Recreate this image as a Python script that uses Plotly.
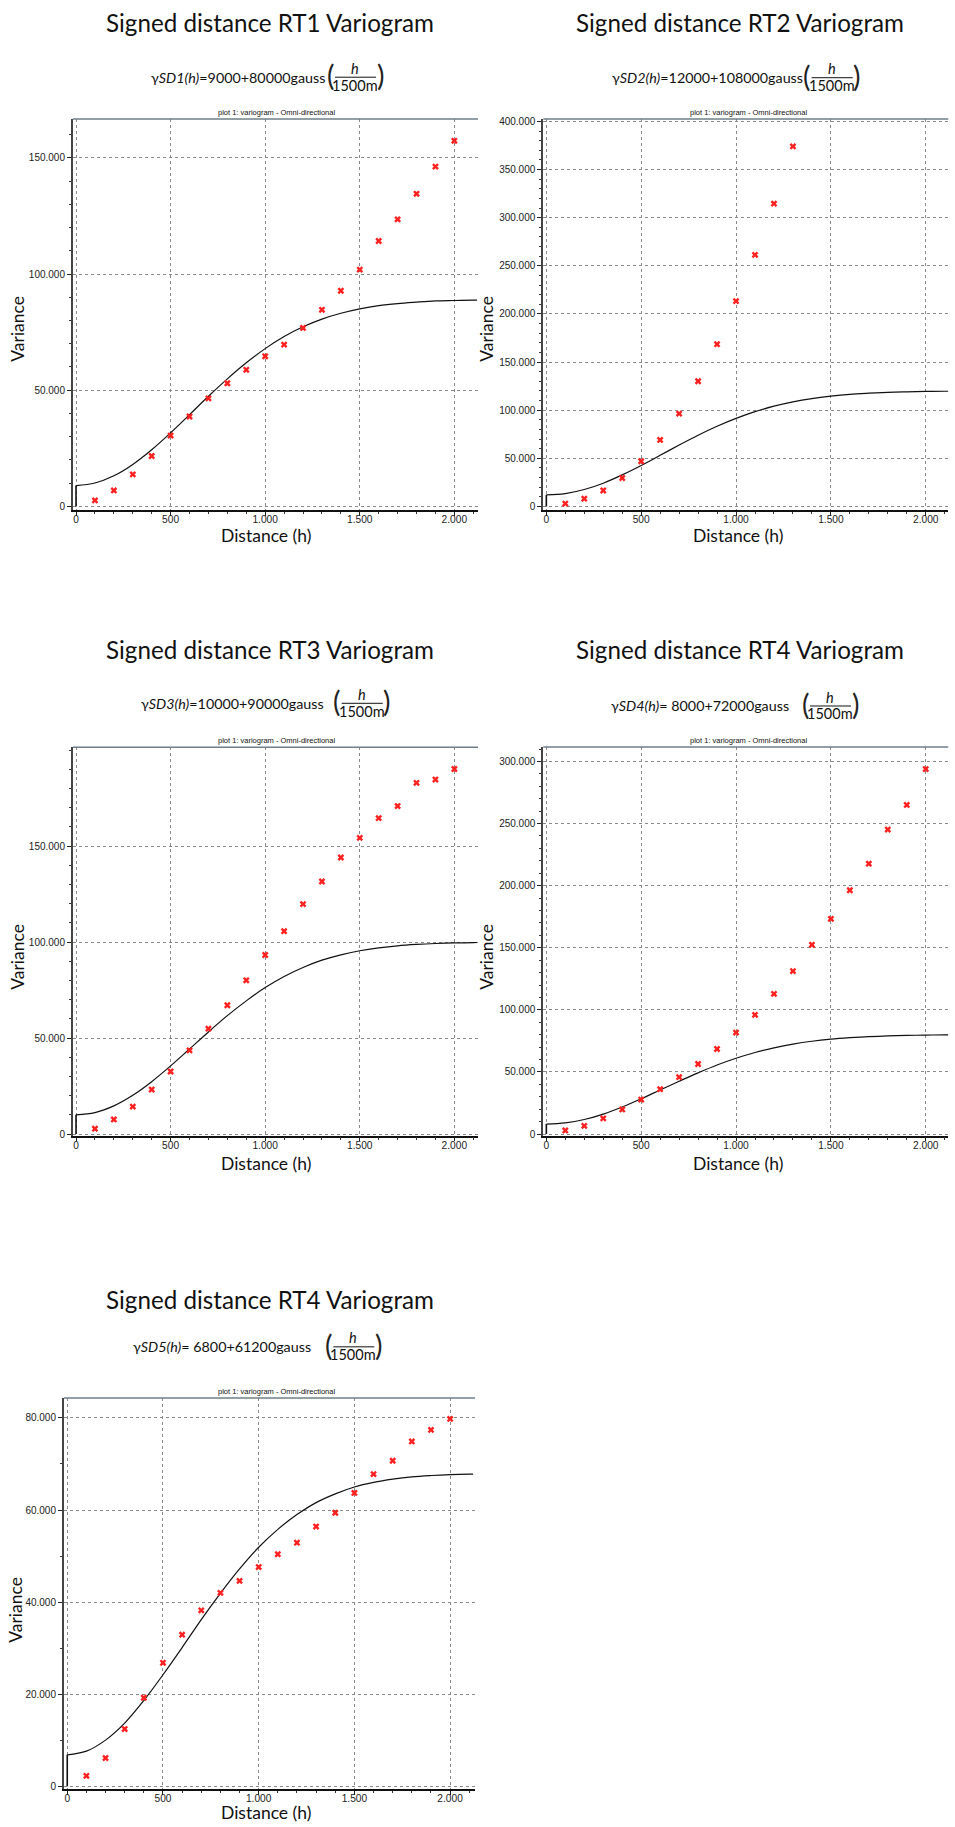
import plotly.graph_objects as go

# ------------------------------------------------------------------ data
lag_h = [100, 200, 300, 400, 500, 600, 700, 800, 900, 1000,
         1100, 1200, 1300, 1400, 1500, 1600, 1700, 1800, 1900, 2000]
rt2_lag_h = [100, 200, 300, 400, 500, 600, 700, 800, 900, 1000, 1100, 1200, 1300]

rt1_variance = [2600, 6900, 13800, 21700, 30500, 38700, 46500, 53000, 58800, 64600,
                69600, 76800, 84600, 92800, 101900, 114200, 123500, 134500, 146200, 157300]
rt2_variance = [3000, 8100, 16600, 29600, 47000, 69100, 96500, 130100, 168600, 213300,
                261400, 314600, 374100]
rt3_variance = [2800, 7600, 14300, 23200, 32600, 43600, 54900, 67100, 80100, 93300,
                105700, 119800, 131600, 144100, 154300, 164600, 170900, 183000, 184700, 190200]
rt4_variance = [2900, 6600, 12600, 19800, 27800, 36100, 45800, 56400, 68500, 81700,
                96000, 112900, 131200, 152400, 173300, 196300, 217700, 245200, 265000, 293900]
sd5_variance = [2240, 6100, 12400, 19200, 26800, 32900, 38200, 42000, 44600, 47600,
                50400, 52900, 56400, 59400, 63700, 67800, 70700, 74900, 77400, 79800]

# fitted model curves
model_h = [0, 100, 200, 300, 400, 500, 600, 700, 800, 900, 1000, 1100,
           1200, 1300, 1400, 1500, 1600, 1700, 1800, 1900, 2000, 2100, 2120]
rt1_model = [9000, 10100, 13200, 18100, 24400, 31700, 39500, 47400, 54900, 61800, 67900, 73100,
             77300, 80600, 83100, 85000, 86400, 87300, 87900, 88400, 88600, 88800, 88800]
rt2_model = [12000, 13400, 17600, 24200, 32800, 42600, 53200, 63800, 74000, 83300, 91500, 98500,
             104200, 108700, 112100, 114600, 116500, 117700, 118600, 119100, 119500, 119700, 119700]
rt3_model = [10000, 11200, 14700, 20200, 27300, 35500, 44300, 53200, 61700, 69400, 76300, 82100,
             86800, 90600, 93400, 95500, 97000, 98100, 98800, 99300, 99600, 99700, 99800]
rt4_model = [8000, 9000, 11700, 16100, 21800, 28400, 35500, 42500, 49300, 55600, 61000, 65700,
             69400, 72400, 74700, 76400, 77600, 78500, 79000, 79400, 79700, 79800, 79800]
sd5_model = [6800, 7600, 10000, 13700, 18600, 24200, 30100, 36200, 41900, 47200, 51900, 55800,
             59000, 61600, 63500, 65000, 66000, 66700, 67200, 67500, 67700, 67800, 67800]

panel_titles = ["Signed distance RT1 Variogram", "Signed distance RT2 Variogram",
                "Signed distance RT3 Variogram", "Signed distance RT4 Variogram",
                "Signed distance RT4 Variogram"]
formula_texts = ["γ<i>SD1(h)</i>=9000+80000gauss",
                 "γ<i>SD2(h)</i>=12000+108000gauss",
                 "γ<i>SD3(h)</i>=10000+90000gauss",
                 "γ<i>SD4(h)</i>= 8000+72000gauss",
                 "γ<i>SD5(h)</i>= 6800+61200gauss"]
fraction_num = "<i>h</i>"
fraction_den = "1500m"
plot_subtitle = "plot 1: variogram - Omni-directional"
x_title = "Distance (h)"
y_title = "Variance"

x_tick_vals = [0, 500, 1000, 1500, 2000]
x_tick_text = ["0", "500", "1.000", "1.500", "2.000"]
y_tick_vals_150k = [0, 50000, 100000, 150000]
y_tick_text_150k = ["0", "50.000", "100.000", "150.000"]
y_tick_vals_400k = [0, 50000, 100000, 150000, 200000, 250000, 300000, 350000, 400000]
y_tick_text_400k = ["0", "50.000", "100.000", "150.000", "200.000", "250.000",
                    "300.000", "350.000", "400.000"]
y_tick_vals_300k = [0, 50000, 100000, 150000, 200000, 250000, 300000]
y_tick_text_300k = ["0", "50.000", "100.000", "150.000", "200.000", "250.000", "300.000"]
y_tick_vals_80k = [0, 20000, 40000, 60000, 80000]
y_tick_text_80k = ["0", "20.000", "40.000", "60.000", "80.000"]

# ------------------------------------------------------------------ layout geometry (pixels)
W, H = 955, 1827
panels = [
    dict(lags=lag_h, var=rt1_variance, model=rt1_model, yt=(y_tick_vals_150k, y_tick_text_150k),
         ydt=10000, box=(73, 478, 116.4, 509), xr=[-16, 2125], yr=[-1540, 166700],
         title_xy=(270, 20), sub_xy=(276, 110), f_left=149, f_y=74.5, paren_l=330,
         xt_xy=(266, 535), yt_xy=(18, 327)),
    dict(lags=rt2_lag_h, var=rt2_variance, model=rt2_model, yt=(y_tick_vals_400k, y_tick_text_400k),
         ydt=10000, box=(543.3, 948.3, 116.4, 509), xr=[-16, 2119], yr=[-3700, 402600],
         title_xy=(740, 20), sub_xy=(748, 110), f_left=610, f_y=75, paren_l=806.7,
         xt_xy=(738, 535), yt_xy=(487, 327)),
    dict(lags=lag_h, var=rt3_variance, model=rt3_model, yt=(y_tick_vals_150k, y_tick_text_150k),
         ydt=10000, box=(73, 478, 747, 1137), xr=[-16, 2125], yr=[-830, 201600],
         title_xy=(270, 649), sub_xy=(276, 740.7), f_left=139, f_y=703, paren_l=336.7,
         xt_xy=(266, 1165), yt_xy=(18, 957.5)),
    dict(lags=lag_h, var=rt4_variance, model=rt4_model, yt=(y_tick_vals_300k, y_tick_text_300k),
         ydt=10000, box=(543.3, 948.3, 746.8, 1137), xr=[-16, 2119], yr=[-1280, 311700],
         title_xy=(740, 649), sub_xy=(748, 740.7), f_left=609, f_y=705.7, paren_l=805,
         xt_xy=(738, 1165), yt_xy=(487, 957.5)),
    dict(lags=lag_h, var=sd5_variance, model=sd5_model, yt=(y_tick_vals_80k, y_tick_text_80k),
         ydt=10000, box=(64, 475, 1400.4, 1793), xr=[-17, 2130], yr=[-650, 84330],
         title_xy=(270, 1301), sub_xy=(276, 1393.6), f_left=130.7, f_y=1349, paren_l=328.3,
         xt_xy=(266, 1816), yt_xy=(16, 1613)),
]


def px(x):
    return x / W


def py(y):
    return 1 - y / H


TITLE_FONT = "Lato, 'Open Sans', sans-serif"
TICK_FONT = "'Liberation Sans', Arial, sans-serif"

fig = go.Figure()
annotations = []
shapes = []
layout_axes = {}

for i, p in enumerate(panels):
    n = i + 1
    xa = "x" if n == 1 else f"x{n}"
    ya = "y" if n == 1 else f"y{n}"
    xkey = "xaxis" if n == 1 else f"xaxis{n}"
    ykey = "yaxis" if n == 1 else f"yaxis{n}"
    left, right, top, bottom = p["box"]

    # model curve
    fig.add_trace(go.Scatter(x=model_h, y=p["model"], mode="lines",
                             line=dict(color="#111111", width=1.2, shape="spline", smoothing=1.0),
                             xaxis=xa, yaxis=ya, showlegend=False, hoverinfo="skip"))
    # nugget jump at h = 0
    fig.add_trace(go.Scatter(x=[model_h[0], model_h[0]], y=[0, p["model"][0]], mode="lines",
                             line=dict(color="#111111", width=1.6),
                             xaxis=xa, yaxis=ya, showlegend=False, hoverinfo="skip"))
    # experimental points
    fig.add_trace(go.Scatter(x=p["lags"], y=p["var"], mode="markers",
                             marker=dict(symbol="x", size=6, color="#ff2020",
                                         line=dict(width=0)),
                             xaxis=xa, yaxis=ya, showlegend=False))

    layout_axes[xkey] = dict(
        domain=[px(left), px(right)], anchor=ya, range=p["xr"],
        tickvals=x_tick_vals, ticktext=x_tick_text,
        showgrid=True, gridcolor="#8a8a8a", griddash="dot", gridwidth=1,
        zeroline=False, showline=True, linecolor="#111111", linewidth=1.6,
        ticks="outside", ticklen=4, tickcolor="#222222", tickwidth=1,
        ticklabelstandoff=-5,
        minor=dict(dtick=100, tick0=0, ticks="outside", ticklen=2.5, tickcolor="#333333",
                   showgrid=False),
        tickfont=dict(family=TICK_FONT, size=10.2, color="#222222"),
        fixedrange=True,
    )
    layout_axes[ykey] = dict(
        domain=[py(bottom), py(top)], anchor=xa, range=p["yr"],
        tickvals=p["yt"][0], ticktext=p["yt"][1],
        showgrid=True, gridcolor="#8a8a8a", griddash="dot", gridwidth=1,
        zeroline=False, showline=True, linecolor="#444444", linewidth=2,
        ticks="outside", ticklen=4, tickcolor="#222222", tickwidth=1,
        minor=dict(dtick=p["ydt"], tick0=0, ticks="outside", ticklen=2.5, tickcolor="#333333",
                   showgrid=False),
        tickfont=dict(family=TICK_FONT, size=10, color="#222222"),
        fixedrange=True,
    )

    # top border of plot frame
    shapes.append(dict(type="line", xref="paper", yref="paper",
                       x0=px(left), x1=px(right), y0=py(top), y1=py(top),
                       line=dict(color="#6f7f88", width=1.5)))

    # panel title
    tx, ty = p["title_xy"]
    annotations.append(dict(text=panel_titles[i], x=px(tx), y=py(ty), xref="paper", yref="paper",
                            xanchor="center", yanchor="middle", showarrow=False,
                            font=dict(family=TITLE_FONT, size=24.2, color="#111111")))
    # plot subtitle
    sx, sy = p["sub_xy"]
    annotations.append(dict(text=plot_subtitle, x=px(sx), y=py(sy), xref="paper", yref="paper",
                            xanchor="center", yanchor="middle", showarrow=False,
                            font=dict(family=TICK_FONT, size=7.5, color="#111111")))
    # formula
    fy = p["f_y"]
    annotations.append(dict(text=formula_texts[i], x=px(p["f_left"]), y=py(fy),
                            xref="paper", yref="paper", xanchor="left", yanchor="middle",
                            showarrow=False, font=dict(family=TITLE_FONT, size=14.3, color="#111111")))
    pl = p["paren_l"]
    annotations.append(dict(text="(", x=px(pl), y=py(fy - 2), xref="paper", yref="paper",
                            xanchor="center", yanchor="middle", showarrow=False,
                            font=dict(family=TITLE_FONT, size=28, color="#222222")))
    annotations.append(dict(text=")", x=px(pl + 50), y=py(fy - 2), xref="paper", yref="paper",
                            xanchor="center", yanchor="middle", showarrow=False,
                            font=dict(family=TITLE_FONT, size=28, color="#222222")))
    annotations.append(dict(text=fraction_num, x=px(pl + 25), y=py(fy - 9), xref="paper",
                            yref="paper", xanchor="center", yanchor="middle", showarrow=False,
                            font=dict(family=TITLE_FONT, size=14.5, color="#111111")))
    annotations.append(dict(text=fraction_den, x=px(pl + 25), y=py(fy + 8), xref="paper",
                            yref="paper", xanchor="center", yanchor="middle", showarrow=False,
                            font=dict(family=TITLE_FONT, size=14.5, color="#111111")))
    shapes.append(dict(type="line", xref="paper", yref="paper",
                       x0=px(pl + 5), x1=px(pl + 46), y0=py(fy), y1=py(fy),
                       line=dict(color="#111111", width=1)))
    # axis titles
    ax, ay = p["xt_xy"]
    annotations.append(dict(text=x_title, x=px(ax), y=py(ay), xref="paper", yref="paper",
                            xanchor="center", yanchor="middle", showarrow=False,
                            font=dict(family=TITLE_FONT, size=17.5, color="#111111")))
    vx, vy = p["yt_xy"]
    annotations.append(dict(text=y_title, x=px(vx), y=py(vy), xref="paper", yref="paper",
                            xanchor="center", yanchor="middle", showarrow=False, textangle=-90,
                            font=dict(family=TITLE_FONT, size=17.5, color="#111111")))

fig.update_layout(
    width=W, height=H, autosize=False,
    margin=dict(l=0, r=0, t=0, b=0),
    paper_bgcolor="white", plot_bgcolor="white",
    annotations=annotations, shapes=shapes,
    showlegend=False,
    **layout_axes,
)

fig.write_html("out.html", config={"displayModeBar": False},
               post_script="document.body.style.margin='0';")
